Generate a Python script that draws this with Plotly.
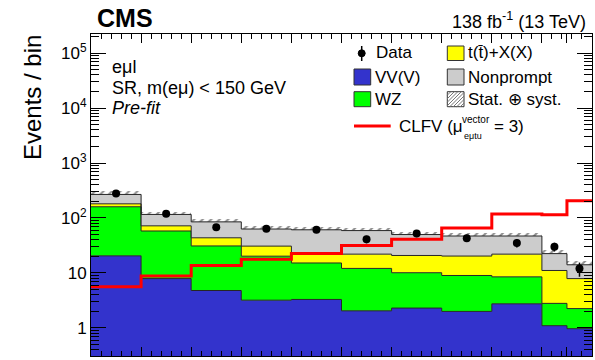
import numpy as np
import plotly.graph_objects as go

# ---- binned yields (pre-fit), signal region e-mu-l, m(e mu) < 150 GeV ----
edges = [0.0, 0.1, 0.2, 0.3, 0.4, 0.5, 0.6, 0.7, 0.8, 0.9, 0.95, 1.0]
vvv = [20.5, 7.9, 4.8, 3.2, 3.3, 2.05, 2.3, 2.0, 2.75, 1.1, 0.97]
wz = [139.5, 50.1, 26.2, 17.0, 11.9, 10.05, 7.8, 7.0, 5.75, 1.7, 1.28]
ttx = [21.0, 14.0, 12.6, 10.6, 7.8, 9.9, 10.7, 11.3, 13.5, 8.3, 5.65]
nonprompt = [87.0, 44.0, 41.4, 32.2, 38.0, 37.0, 29.2, 26.7, 25.0, 11.4, 6.2]
data = [280, 119, 68, 64, 61, 41, 52, 43, 35, 30, 12]
clfv = [5.6, 8.8, 13.7, 17.7, 22.5, 31.5, 41.0, 66.0, 118.0, 114.0, 206.0]
unc_rel = [0.15, 0.13, 0.13, 0.13, 0.13, 0.13, 0.13, 0.13, 0.14, 0.15, 0.18]

COL_VV = "#3333cc"
COL_WZ = "#00ff00"
COL_TTX = "#ffff00"
COL_NP = "#cccccc"
COL_SIG = "#ff0000"
EDGE = "#262626"
FONT = "Liberation Sans, Arial, Helvetica, sans-serif"

W, H = 595, 360
L, R, T, B = 91, 592, 34, 356

e = np.array(edges)
centers = 0.5 * (e[1:] + e[:-1])
widths = e[1:] - e[:-1]

c1 = np.array(vvv)
c2 = c1 + np.array(wz)
c3 = c2 + np.array(ttx)
c4 = c3 + np.array(nonprompt)
unc = c4 * np.array(unc_rel)


def step(v):
    v = list(v)
    return v + [v[-1]]


fig = go.Figure()

# floor below the visible range so the first layer fills down to the frame
fig.add_trace(go.Scatter(x=edges, y=[1e-3] * len(edges), mode="lines",
                         line=dict(width=0, shape="hv"), hoverinfo="skip",
                         showlegend=False))
for cum, col in [(c1, COL_VV), (c2, COL_WZ), (c3, COL_TTX), (c4, COL_NP)]:
    fig.add_trace(go.Scatter(x=edges, y=step(cum), mode="lines",
                             line=dict(color=EDGE, width=1, shape="hv"),
                             fill="tonexty", fillcolor=col, showlegend=False))

# stat (+) syst band on the total background
fig.add_trace(go.Bar(x=centers, y=2 * unc, base=c4 - unc, width=widths,
                     marker=dict(color="rgba(0,0,0,0)", line=dict(width=0),
                                 pattern=dict(shape="/", fgcolor="#1e1e1e",
                                              size=6, solidity=0.35,
                                              fillmode="overlay")),
                     showlegend=False))

# signal
fig.add_trace(go.Scatter(x=edges, y=step(clfv), mode="lines",
                         line=dict(color=COL_SIG, width=3, shape="hv"),
                         showlegend=False))

# data
fig.add_trace(go.Scatter(x=centers, y=data, mode="markers",
                         marker=dict(color="black", size=8),
                         error_y=dict(type="data", array=np.sqrt(data),
                                      color="black", thickness=1.5, width=0),
                         showlegend=False))


def fx(px):
    return (px - L) / (R - L)


def fy(py):
    return (B - py) / (B - T)


shapes = []
annotations = []


def text(s, px, py, size=17, anchor="left", **kw):
    annotations.append(dict(text=s, x=fx(px), y=fy(py), xref="paper", yref="paper",
                            xanchor=anchor, yanchor="middle", showarrow=False,
                            borderpad=0,
                            font=dict(family=FONT, size=size, color="black"), **kw))


def box(x0, y0, x1, y1, fill):
    shapes.append(dict(type="rect", xref="paper", yref="paper",
                       x0=fx(x0), x1=fx(x1), y0=fy(y1), y1=fy(y0),
                       fillcolor=fill, line=dict(color="#333333", width=1)))


# header
text("<b>CMS</b>", 96, 18, size=25)
text("138 fb<sup>-1</sup> (13 TeV)", 587, 21, size=18, anchor="right")

# category labels
text("eμl", 111, 67, size=18)
text("SR, m(eμ) < 150 GeV", 111, 88, size=18)
text("<i>Pre-fit</i>", 111, 108, size=18)

# y-axis title
annotations.append(dict(text="Events / bin", x=fx(32), y=fy(98), xref="paper",
                        yref="paper", xanchor="center", yanchor="middle",
                        showarrow=False, textangle=-90,
                        font=dict(family=FONT, size=24, color="black")))

# legend, left column
shapes.append(dict(type="line", xref="paper", yref="paper",
                   x0=fx(361.7), x1=fx(361.7), y0=fy(46), y1=fy(61),
                   line=dict(color="black", width=1.5)))
shapes.append(dict(type="circle", xref="paper", yref="paper",
                   x0=fx(358.2), x1=fx(365.2), y0=fy(56.8), y1=fy(49.8),
                   fillcolor="black", line=dict(color="black", width=1)))
text("Data", 375, 53)
box(354, 69, 370.7, 85, COL_VV)
text("VV(V)", 374, 77)
box(354, 91.7, 370.7, 106.7, COL_WZ)
text("WZ", 374, 99)
shapes.append(dict(type="line", xref="paper", yref="paper",
                   x0=fx(354), x1=fx(390.7), y0=fy(126), y1=fy(126),
                   line=dict(color=COL_SIG, width=3)))
text("CLFV (μ", 398, 126.5)
text("vector", 461, 120, size=10)
text("eμtu", 463, 136, size=9)
text("= 3)", 493, 126.5)

# legend, right column
box(447.3, 46, 464, 60.5, COL_TTX)
text("t(t\u0304)+X(X)", 466.5, 53)
box(447.3, 69, 464, 85, COL_NP)
text("Nonprompt", 466.5, 77)
box(447.3, 91.7, 464, 106.7, "white")
# diagonal hatching inside the uncertainty legend box
hx0, hy0, hx1, hy1 = 447.3, 91.7, 464, 106.7
path = ""
s = 3.5
c = hx0 - (hy1 - hy0)
while c < hx1:
    xa, ya = c, hy1
    xb, yb = c + (hy1 - hy0), hy0
    if xa < hx0:
        ya = hy1 - (hx0 - xa)
        xa = hx0
    if xb > hx1:
        yb = hy0 + (xb - hx1)
        xb = hx1
    if xb > xa:
        path += f"M{fx(xa)},{fy(ya)} L{fx(xb)},{fy(yb)} "
    c += s
shapes.append(dict(type="path", xref="paper", yref="paper", path=path,
                   line=dict(color="#777777", width=1)))
text("Stat. ⊕ syst.", 466.5, 99)

# axes
y_major = [1, 10, 100, 1e3, 1e4, 1e5]
y_labels = ["1", "10", "10<sup>2</sup>", "10<sup>3</sup>", "10<sup>4</sup>", "10<sup>5</sup>"]
y_minor = [k * 10.0 ** d for d in range(-1, 6) for k in range(2, 10)]

fig.update_layout(
    width=W, height=H, autosize=False,
    margin=dict(l=L, r=W - R, t=T, b=H - B, pad=0),
    paper_bgcolor="white", plot_bgcolor="white",
    font=dict(family=FONT, color="black"),
    shapes=shapes, annotations=annotations,
    bargap=0,
    xaxis=dict(range=[0, 1], showgrid=False, zeroline=False,
               showline=True, linecolor="black", linewidth=1, mirror="ticks",
               ticks="inside", tickvals=edges, ticklen=9, tickcolor="black",
               tickwidth=1, showticklabels=False,
               minor=dict(ticks="inside", dtick=0.02, tick0=0, ticklen=5,
                          tickcolor="black", tickwidth=1, showgrid=False)),
    yaxis=dict(type="log", range=[-0.51, 5.346], showgrid=False, zeroline=False,
               showline=True, linecolor="black", linewidth=1, mirror="ticks",
               ticks="inside", tickvals=y_major, ticktext=y_labels,
               ticklen=15, tickcolor="black", tickwidth=1,
               tickfont=dict(family=FONT, size=17, color="black"),
               minor=dict(ticks="inside", tickvals=y_minor, ticklen=8,
                          tickcolor="black", tickwidth=1, showgrid=False)),
)

fig.write_html("out.html")
